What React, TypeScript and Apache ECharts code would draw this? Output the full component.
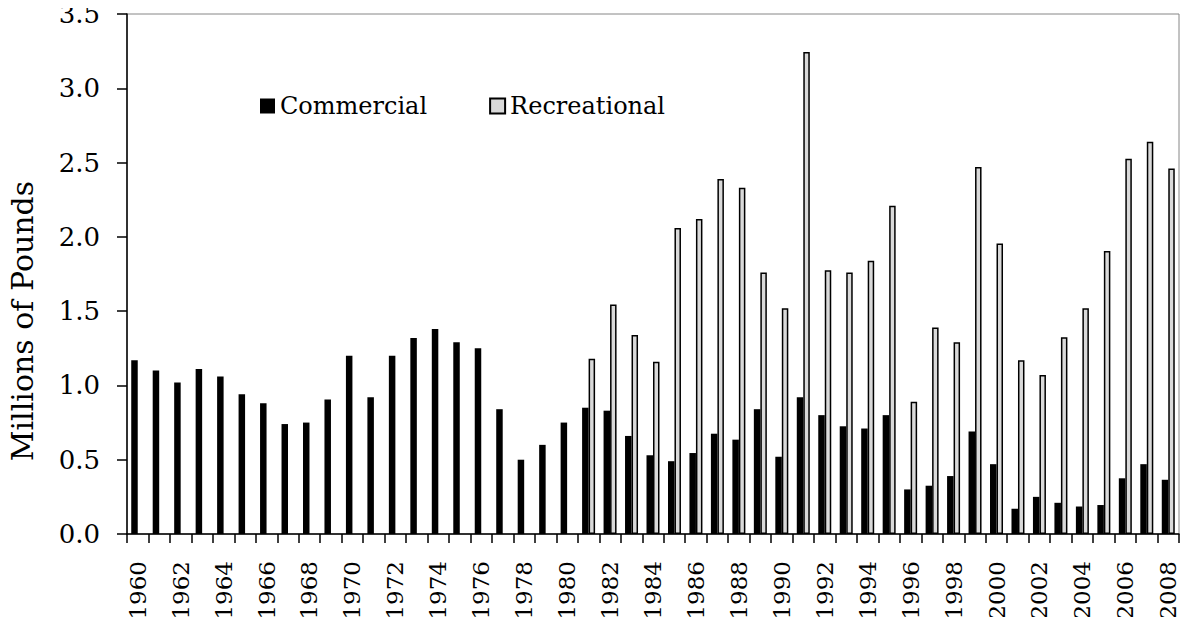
import React, { useEffect, useRef } from "react";
import * as echarts from "echarts";

const years: string[] = [];
for (let y = 1960; y <= 2008; y++) years.push(String(y));

const commercial = [
  1.17, 1.10, 1.02, 1.11, 1.06, 0.94, 0.88, 0.74, 0.75, 0.905,
  1.20, 0.92, 1.20, 1.32, 1.38, 1.29, 1.25, 0.84, 0.50, 0.60,
  0.75, 0.85, 0.83, 0.66, 0.53, 0.49, 0.545, 0.675, 0.635, 0.84,
  0.52, 0.92, 0.80, 0.725, 0.71, 0.80, 0.30, 0.325, 0.39, 0.69,
  0.47, 0.17, 0.25, 0.21, 0.185, 0.195, 0.375, 0.47, 0.365,
];

const recreational = [
  null, null, null, null, null, null, null, null, null, null,
  null, null, null, null, null, null, null, null, null, null,
  null, 1.18, 1.545, 1.34, 1.16, 2.06, 2.12, 2.39, 2.33, 1.76,
  1.52, 3.245, 1.775, 1.76, 1.84, 2.21, 0.89, 1.39, 1.29, 2.47,
  1.955, 1.17, 1.07, 1.325, 1.52, 1.905, 2.525, 2.64, 2.46,
];

const yTicks = [0, 0.5, 1.0, 1.5, 2.0, 2.5, 3.0, 3.5];

const FONT = "DejaVu Serif";

export default function App() {
  const ref = useRef<HTMLDivElement>(null);
  useEffect(() => {
    if (!ref.current) return;
    const chart = echarts.init(ref.current, null, { renderer: "svg" });
    chart.setOption({
      animation: false,
      backgroundColor: "#ffffff",
      textStyle: { fontFamily: FONT },
      grid: {
        left: 127,
        right: 9,
        top: 14,
        bottom: 91,
        show: true,
        borderColor: "#868686",
        borderWidth: 1,
        backgroundColor: "transparent",
      },
      legend: {
        left: 255,
        top: 89,
        itemWidth: 15,
        itemHeight: 15,
        itemGap: 62,
        icon: "rect",
        textStyle: { fontFamily: FONT, fontSize: 24, color: "#000" },
        data: ["Commercial", "Recreational"],
      },
      xAxis: {
        type: "category",
        data: years,
        boundaryGap: true,
        axisLine: { lineStyle: { color: "#000", width: 1.5 } },
        axisTick: { show: true, interval: 0, length: 9, lineStyle: { color: "#000", width: 1.5 } },
        axisLabel: {
          interval: 1,
          rotate: 90,
          margin: 27,
          color: "#000",
          fontFamily: FONT,
          fontSize: 23,
        },
      },
      yAxis: {
        type: "value",
        min: yTicks[0],
        max: yTicks[yTicks.length - 1],
        interval: 0.5,
        axisLine: { show: true, lineStyle: { color: "#000", width: 1.5 } },
        axisTick: { show: true, length: 10, lineStyle: { color: "#000", width: 1.5 } },
        splitLine: { show: false },
        axisLabel: {
          margin: 27,
          color: "#000",
          fontFamily: FONT,
          fontSize: 26,
          formatter: (v: number) => v.toFixed(1),
        },
      },
      graphic: [
        {
          type: "text",
          x: 22,
          y: 321,
          rotation: Math.PI / 2,
          style: {
            text: "Millions of Pounds",
            font: "30px DejaVu Serif",
            fill: "#000",
            align: "center",
            verticalAlign: "middle",
          },
        },
      ],
      series: [
        {
          name: "Commercial",
          type: "bar",
          data: commercial,
          barWidth: 6.5,
          barGap: "0%",
          itemStyle: { color: "#000000" },
        },
        {
          name: "Recreational",
          type: "bar",
          data: recreational,
          barWidth: 6.5,
          barGap: "0%",
          itemStyle: { color: "#d9d9d9", borderColor: "#000", borderWidth: 1.5 },
        },
      ],
    });
    return () => chart.dispose();
  }, []);
  return <div ref={ref} style={{ width: 1188, height: 625, margin: -8 }} />;
}
